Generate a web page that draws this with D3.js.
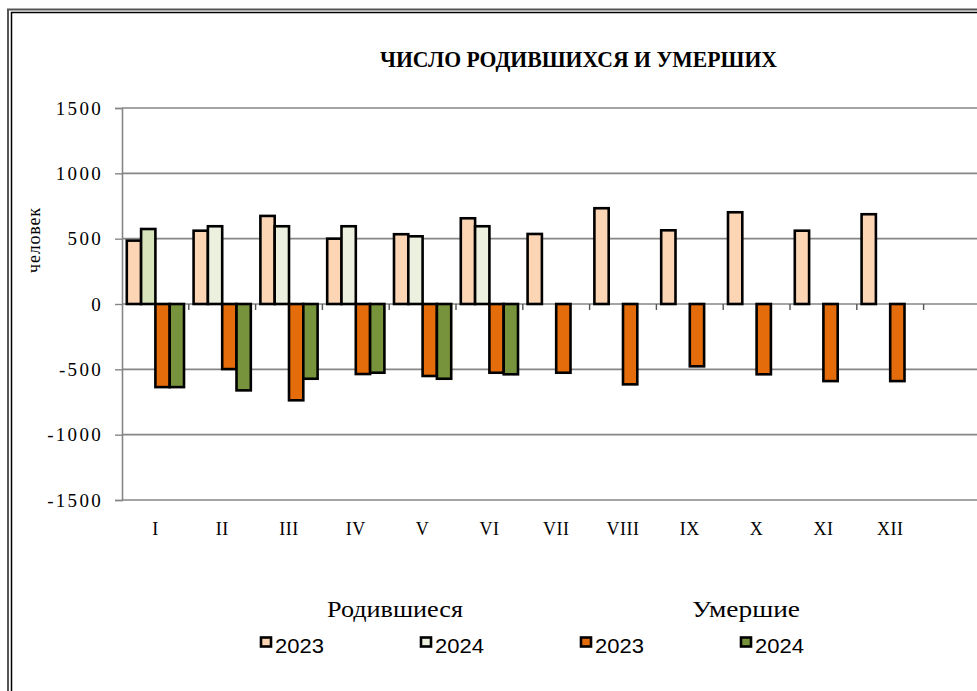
<!DOCTYPE html>
<html>
<head>
<meta charset="utf-8">
<script src="https://cdn.jsdelivr.net/npm/d3@7"></script>
<style>
  body { margin: 0; background: #fff; }
  svg { display: block; }
</style>
</head>
<body>
<div id="chart"></div>
<script>
// Data
const months = ["I", "II", "III", "IV", "V", "VI", "VII", "VIII", "IX", "X", "XI", "XII"];
const births2023 = [485, 561, 674, 500, 534, 656, 536, 733, 564, 702, 561, 687];
const births2024 = [574, 595, 595, 595, 518, 595];
const deaths2023 = [-636, -498, -737, -536, -551, -526, -526, -615, -477, -538, -590, -590];
const deaths2024 = [-636, -661, -572, -526, -572, -538];
const yTicks = [-1500, -1000, -500, 0, 500, 1000, 1500];

const series = [
  { key: "b23", label: "2023", values: births2023, color: "#fcd5b5" },
  { key: "b24", label: "2024", values: births2024, color: "#ebf1de" },
  { key: "d23", label: "2023", values: deaths2023, color: "#e46c0a" },
  { key: "d24", label: "2024", values: deaths2024, color: "#77933c" }
];

const W = 977, H = 691;
const serif = "'Liberation Serif', 'Times New Roman', serif";
const sans = "'Liberation Sans', Arial, sans-serif";

// plot area
const plotLeft = 122, plotTop = 108, plotBottom = 500;
const step = 66.8;

const svg = d3.select("#chart").append("svg")
    .attr("width", W)
    .attr("height", H);

// Double frame (right and bottom run off the picture)
svg.append("rect")
    .attr("x", 8).attr("y", 9.5)
    .attr("width", W + 20).attr("height", H + 20)
    .attr("fill", "none").attr("stroke", "#555").attr("stroke-width", 2);
svg.append("rect")
    .attr("x", 11.5).attr("y", 12.5)
    .attr("width", W + 20).attr("height", H + 20)
    .attr("fill", "none").attr("stroke", "#000").attr("stroke-width", 1.5);

// Scales
const x = d3.scaleBand()
    .domain(months)
    .range([plotLeft, plotLeft + step * months.length]);

const x1 = d3.scaleBand()
    .domain(series.map(s => s.key))
    .range([0, x.bandwidth()])
    .paddingOuter(0.335);

const y = d3.scaleLinear()
    .domain([-1500, 1500])
    .range([plotBottom, plotTop]);

// Grid lines
svg.append("g")
    .selectAll("line")
    .data(yTicks)
    .join("line")
        .attr("x1", plotLeft).attr("x2", W + 20)
        .attr("y1", d => y(d)).attr("y2", d => y(d))
        .attr("stroke", "#868686")
        .attr("stroke-width", 1.6);

// Y axis (plain hyphen for negatives, like the original)
const yAxis = svg.append("g")
    .attr("transform", `translate(${plotLeft},0)`)
    .call(d3.axisLeft(y).tickValues(yTicks).tickSize(7).tickPadding(12).tickFormat(d => String(d)));
yAxis.select(".domain").attr("stroke", "#868686").attr("stroke-width", 1.6);
yAxis.selectAll(".tick line").attr("stroke", "#868686").attr("stroke-width", 1.4);
yAxis.selectAll(".tick text")
    .attr("font-family", serif)
    .attr("font-size", 19)
    .attr("letter-spacing", 2.3)
    .attr("fill", "#000");

// Category ticks on the zero line
const boundaries = d3.range(1, months.length + 2).map(i => plotLeft + i * x.step());
svg.append("g")
    .selectAll("line")
    .data(boundaries)
    .join("line")
        .attr("x1", d => d).attr("x2", d => d)
        .attr("y1", y(0)).attr("y2", y(0) + 6)
        .attr("stroke", "#555")
        .attr("stroke-width", 1.4);

// Bars
series.forEach(s => {
  svg.append("g")
      .selectAll("rect")
      .data(s.values.map((v, i) => ({ month: months[i], value: v, i: i })))
      .join("rect")
          .attr("x", d => x(d.month) + x1(s.key))
          .attr("y", d => y(Math.max(0, d.value)))
          .attr("width", x1.bandwidth())
          .attr("height", d => Math.abs(y(d.value) - y(0)))
          .attr("fill", d => (s.key === "b24" && d.i === 0) ? "#d8e4bc" : s.color)
          .attr("stroke", "#000")
          .attr("stroke-width", 2.6);
});

// X labels
svg.append("g")
    .selectAll("text")
    .data(months)
    .join("text")
        .attr("x", d => x(d) + x.bandwidth() / 2)
        .attr("y", 535)
        .attr("text-anchor", "middle")
        .attr("font-family", serif)
        .attr("font-size", 18)
        .attr("letter-spacing", 0.5)
        .text(d => d);

// Y axis title
svg.append("text")
    .attr("transform", "translate(40,240) rotate(-90)")
    .attr("text-anchor", "middle")
    .attr("font-family", serif)
    .attr("font-size", 18)
    .attr("letter-spacing", 0.8)
    .text("человек");

// Chart title
svg.append("text")
    .attr("x", 380)
    .attr("y", 67)
    .attr("font-family", serif)
    .attr("font-size", 24)
    .attr("font-weight", "bold")
    .attr("textLength", 397)
    .attr("lengthAdjust", "spacingAndGlyphs")
    .text("ЧИСЛО РОДИВШИХСЯ И УМЕРШИХ");

// Legend group headers
const headers = [
  { text: "Родившиеся", x: 327, w: 136 },
  { text: "Умершие", x: 692, w: 108 }
];
svg.append("g")
    .selectAll("text")
    .data(headers)
    .join("text")
        .attr("x", d => d.x)
        .attr("y", 617)
        .attr("font-family", serif)
        .attr("font-size", 24)
        .attr("textLength", d => d.w)
        .attr("lengthAdjust", "spacingAndGlyphs")
        .text(d => d.text);

// Legend items
const legend = svg.append("g")
    .selectAll("g")
    .data(series)
    .join("g")
        .attr("transform", (d, i) => `translate(${260 + i * 160},637)`);

legend.append("rect")
    .attr("x", 1).attr("y", 0.5)
    .attr("width", 10).attr("height", 9)
    .attr("fill", d => d.color)
    .attr("stroke", "#000")
    .attr("stroke-width", 2.6);

legend.append("text")
    .attr("x", 15)
    .attr("y", 15.5)
    .attr("font-family", sans)
    .attr("font-size", 21)
    .attr("textLength", 49)
    .attr("lengthAdjust", "spacingAndGlyphs")
    .text(d => d.label);
</script>
</body>
</html>
